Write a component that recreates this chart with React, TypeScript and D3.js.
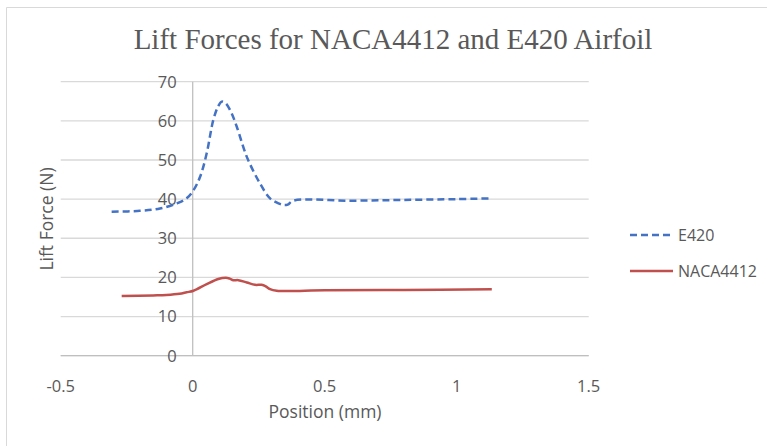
import React from "react";
import * as d3 from "d3";

const e420X = [-0.307, -0.2, -0.124, -0.06, -0.023, 0.003, 0.028, 0.053, 0.078, 0.097, 0.11, 0.125, 0.145, 0.167, 0.205, 0.255, 0.293, 0.325, 0.343, 0.36, 0.381, 0.6, 0.8, 1.0, 1.127];
const e420Y = [36.8, 37.0, 37.6, 38.9, 40.2, 42.3, 45.7, 51.7, 60.2, 63.8, 64.9, 64.5, 62.3, 58.5, 50.8, 44.0, 40.2, 38.9, 38.5, 38.6, 39.6, 39.6, 39.8, 40.0, 40.2];

const nacaX = [-0.269, -0.15, -0.1, -0.05, -0.023, 0.003, 0.053, 0.097, 0.126, 0.14, 0.154, 0.173, 0.205, 0.236, 0.261, 0.275, 0.293, 0.318, 0.5, 0.8, 1.133];
const nacaY = [15.25, 15.4, 15.5, 15.8, 16.2, 16.6, 18.3, 19.6, 19.9, 19.7, 19.3, 19.3, 18.7, 18.1, 18.1, 17.8, 17.0, 16.6, 16.7, 16.8, 17.0];

const xTicks = [-0.5, 0, 0.5, 1, 1.5];
const yTicks = [0, 10, 20, 30, 40, 50, 60, 70];
const seriesNames = ["E420", "NACA4412"];

const W = 767;
const H = 446;
const FONT = "'Open Sans', sans-serif";
const TXT = "#595959";

export default function App() {
  const x = d3.scaleLinear().domain([-0.5, 1.5]).range([60.7, 588.7]);
  const y = d3.scaleLinear().domain([0, 70]).range([355.7, 81.7]);
  const line = d3
    .line<[number, number]>()
    .x((d) => x(d[0]))
    .y((d) => y(d[1]))
    .curve(d3.curveCatmullRom.alpha(0.5));
  const e420 = e420X.map((v, i) => [v, e420Y[i]] as [number, number]);
  const naca = nacaX.map((v, i) => [v, nacaY[i]] as [number, number]);
  const fmt = (v: number) => String(v);

  return (
    <div style={{ position: "absolute", left: 0, top: 0 }}>
      <svg width={W} height={H} style={{ display: "block", background: "#fff" }}>
        <path d={`M6.5,${H} V7.5 H${W}`} fill="none" stroke="#d9d9d9" strokeWidth={1} />
        <text x={393} y={49} textAnchor="middle" fontFamily="'Liberation Serif', 'Times New Roman', serif" fontSize={29} fill={TXT}>
          Lift Forces for NACA4412 and E420 Airfoil
        </text>
        {yTicks.map((t) => (
          <line key={t} x1={x(-0.5)} x2={x(1.5)} y1={y(t)} y2={y(t)} stroke="#d9d9d9" strokeWidth={1.3} />
        ))}
        <line x1={x(0)} x2={x(0)} y1={y(0)} y2={y(70)} stroke="#bfbfbf" strokeWidth={1.3} />
        <line x1={x(-0.5)} x2={x(1.5)} y1={y(0)} y2={y(0)} stroke="#bfbfbf" strokeWidth={1.3} />
        {yTicks.map((t) => (
          <text key={t} x={x(0) - 16} y={y(t)} dy="0.36em" textAnchor="end" fontFamily={FONT} fontSize={16.5} fill={TXT}>
            {fmt(t)}
          </text>
        ))}
        {xTicks.map((t) => (
          <text key={t} x={x(t)} y={392} textAnchor="middle" fontFamily={FONT} fontSize={16.5} fill={TXT}>
            {fmt(t)}
          </text>
        ))}
        <text x={325} y={418} textAnchor="middle" fontFamily={FONT} fontSize={17.5} fill={TXT}>
          Position (mm)
        </text>
        <text transform={`translate(47,219) rotate(-90)`} textAnchor="middle" dy="0.35em" fontFamily={FONT} fontSize={17.5} fill={TXT}>
          Lift Force (N)
        </text>
        <path d={line(e420) || ""} fill="none" stroke="#4472C4" strokeWidth={2.5} strokeDasharray="7,4" />
        <path d={line(naca) || ""} fill="none" stroke="#C0504D" strokeWidth={2.5} />
        <line x1={630} x2={673} y1={235} y2={235} stroke="#4472C4" strokeWidth={2.5} strokeDasharray="7,4" />
        <line x1={630} x2={673} y1={271} y2={271} stroke="#C0504D" strokeWidth={2.5} />
        <text x={678} y={235} dy="0.36em" fontFamily={FONT} fontSize={16} fill={TXT}>{seriesNames[0]}</text>
        <text x={678} y={271} dy="0.36em" fontFamily={FONT} fontSize={16} fill={TXT}>{seriesNames[1]}</text>
      </svg>
    </div>
  );
}
